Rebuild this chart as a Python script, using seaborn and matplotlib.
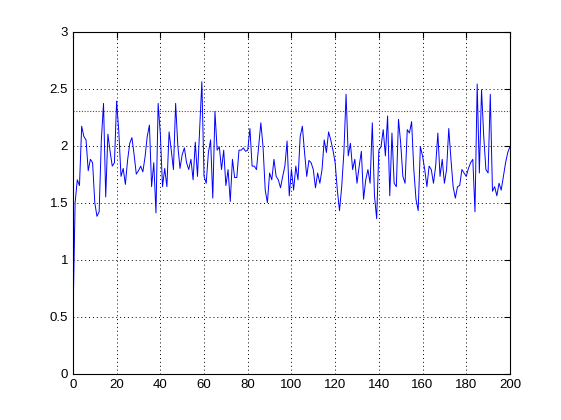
import matplotlib
matplotlib.use("Agg")
import matplotlib.pyplot as plt
import seaborn as sns
import numpy as np
import pandas as pd

# values, one per x step (0..200)
signal = [
    0.45, 1.50, 1.70, 1.65, 2.17, 2.08, 2.05, 1.78, 1.88, 1.85,
    1.50, 1.38, 1.42, 2.05, 2.37, 1.55, 2.10, 1.95, 1.82, 1.85,
    2.39, 2.12, 1.73, 1.80, 1.66, 1.87, 2.02, 2.07, 1.92, 1.75,
    1.78, 1.82, 1.77, 1.90, 2.08, 2.18, 1.64, 1.85, 1.41, 2.37,
    2.10, 1.64, 1.80, 1.64, 2.12, 1.96, 1.79, 2.37, 2.00, 1.80,
    1.92, 1.98, 1.85, 1.79, 1.88, 1.70, 2.03, 1.73, 2.15, 2.56,
    1.73, 1.67, 1.94, 2.05, 1.54, 2.30, 1.96, 1.99, 1.79, 1.96,
    1.65, 1.79, 1.51, 1.88, 1.72, 1.72, 1.96, 1.96, 1.98, 1.95,
    1.96, 2.15, 1.82, 1.82, 1.79, 1.99, 2.20, 1.99, 1.61, 1.50,
    1.76, 1.70, 1.88, 1.73, 1.70, 1.63, 1.73, 1.82, 2.04, 1.56,
    1.79, 1.61, 1.82, 1.70, 2.08, 2.17, 1.94, 1.73, 1.87, 1.85,
    1.79, 1.63, 1.76, 1.67, 1.79, 2.05, 1.94, 2.12, 2.05, 1.96,
    1.85, 1.61, 1.43, 1.64, 1.94, 2.45, 1.91, 2.02, 1.79, 1.88,
    1.67, 1.82, 1.95, 1.53, 1.70, 1.79, 1.67, 2.20, 1.56, 1.36,
    1.96, 1.99, 2.14, 1.91, 2.26, 1.56, 2.11, 1.67, 1.64, 2.23,
    2.02, 1.73, 1.67, 2.14, 2.11, 2.21, 1.79, 1.53, 1.43, 1.99,
    1.91, 1.79, 1.64, 1.82, 1.79, 1.67, 1.82, 2.11, 1.73, 1.88,
    1.67, 1.79, 2.15, 1.88, 1.64, 1.54, 1.64, 1.65, 1.79, 1.76,
    1.73, 1.80, 1.85, 1.88, 1.42, 2.54, 1.76, 2.49, 2.08, 1.79,
    1.76, 2.45, 1.60, 1.64, 1.56, 1.67, 1.61, 1.73, 1.85, 1.94,
    1.99,
]
steps = list(range(len(signal)))
threshold = 2.3
x_ticks = [0, 20, 40, 60, 80, 100, 120, 140, 160, 180, 200]
y_ticks = [0, 0.5, 1, 1.5, 2, 2.5, 3]

sns.set_style("white")
plt.rcParams['font.family'] = ['Liberation Sans', 'DejaVu Sans']
plt.rcParams['font.size'] = 9

df = pd.DataFrame({'step': steps, 'value': signal})

fig = plt.figure(figsize=(5.61, 4.2), dpi=100)
ax = fig.add_axes([0.13, 0.11, 0.779, 0.815])

sns.lineplot(data=df, x='step', y='value', color='#0000ff', linewidth=0.7, ax=ax)
# red dotted threshold line
ax.plot([steps[0], steps[-1]], [threshold, threshold], color='#ff0000',
        linestyle=(0, (1, 1.5)), linewidth=0.8)

ax.set_xlim(0, 200)
ax.set_ylim(0, 3)
ax.set_xticks(x_ticks)
ax.set_yticks(y_ticks)
ax.set_yticklabels(['0', '0.5', '1', '1.5', '2', '2.5', '3'])
ax.set_xlabel('')
ax.set_ylabel('')
ax.grid(True, color='black', linestyle=(0, (1, 3)), linewidth=0.7)
ax.tick_params(direction='in', length=4, top=True, right=True, colors='black', labelsize=9.5)
for s in ax.spines.values():
    s.set_visible(True)
    s.set_color('black')
    s.set_linewidth(0.8)

fig.savefig('out.png', dpi=100, facecolor='white')
